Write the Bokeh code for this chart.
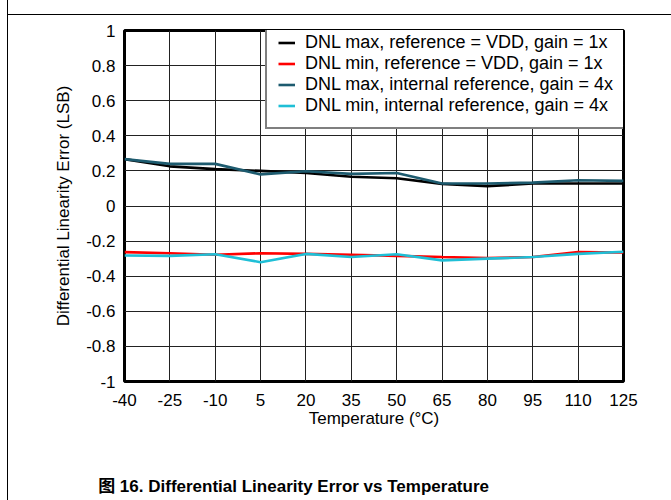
from bokeh.plotting import figure
from bokeh.models import Range1d, FixedTicker, Legend, LegendItem, LinearAxis
from bokeh.embed import file_html
from bokeh.resources import INLINE

# ---- data ----
temps = [-40, -25, -10, 5, 20, 35, 50, 65, 80, 95, 110, 125]
dnl_max_vdd = [0.267, 0.226, 0.210, 0.200, 0.188, 0.167, 0.158, 0.126, 0.113, 0.128, 0.128, 0.128]
dnl_min_vdd = [-0.263, -0.269, -0.278, -0.269, -0.273, -0.278, -0.284, -0.291, -0.297, -0.291, -0.263, -0.265]
dnl_max_int = [0.267, 0.240, 0.240, 0.180, 0.198, 0.183, 0.188, 0.128, 0.128, 0.133, 0.147, 0.143]
dnl_min_int = [-0.282, -0.284, -0.275, -0.320, -0.273, -0.291, -0.275, -0.310, -0.300, -0.291, -0.273, -0.261]

series_names = [
    "DNL max, reference = VDD, gain = 1x",
    "DNL min, reference = VDD, gain = 1x",
    "DNL max, internal reference, gain = 4x",
    "DNL min, internal reference, gain = 4x",
]
series_colors = ["#000000", "#ff0000", "#1d5b6f", "#1fbfd6"]

x_ticks = [-40, -25, -10, 5, 20, 35, 50, 65, 80, 95, 110, 125]
x_tick_labels = ["-40", "-25", "-10", "5", "20", "35", "50", "65", "80", "95", "110", "125"]
y_ticks = [-1.0, -0.8, -0.6, -0.4, -0.2, 0.0, 0.2, 0.4, 0.6, 0.8, 1.0]
y_tick_labels = ["-1", "-0.8", "-0.6", "-0.4", "-0.2", "0", "0.2", "0.4", "0.6", "0.8", "1"]

x_title = "Temperature (°C)"
y_title = "Differential Linearity Error (LSB)"
caption = "图 16. Differential Linearity Error vs Temperature"
caption_x = 15.9  # horizontal anchor of the caption, in temperature units

FONT = "Liberation Sans, Arial, Noto Sans CJK SC"

W, H = 671, 500
p = figure(width=W, height=H, output_backend="svg", toolbar_location=None,
           x_range=Range1d(-40, 125), y_range=Range1d(-1, 1))
p.min_border_left = 124
p.min_border_right = 48
p.min_border_top = 30
p.min_border_bottom = 119
p.background_fill_color = "white"
p.border_fill_color = None
p.outline_line_color = "black"
p.outline_line_width = 3
# page rules of the datasheet (thin black lines left and top)
p.styles = {
    "background": "linear-gradient(#000, #000) 7px 0px / 1px 100% no-repeat, "
                  "linear-gradient(#000, #000) 7px 14px / 664px 1px no-repeat, #ffffff"
}

# grid
for g in (p.xgrid, p.ygrid):
    g.grid_line_color = "#222222"
    g.grid_line_width = 1
p.xgrid.ticker = FixedTicker(ticks=x_ticks)
p.ygrid.ticker = FixedTicker(ticks=y_ticks)

# axes
p.xaxis.ticker = FixedTicker(ticks=x_ticks)
p.yaxis.ticker = FixedTicker(ticks=y_ticks)
p.xaxis.major_label_overrides = {t: l for t, l in zip(x_ticks, x_tick_labels)}
p.yaxis.major_label_overrides = {t: l for t, l in zip(y_ticks, y_tick_labels)}
for ax in (p.xaxis[0], p.yaxis[0]):
    ax.axis_line_color = None
    ax.major_tick_line_color = None
    ax.minor_tick_line_color = None
    ax.major_tick_out = 0
    ax.major_tick_in = 0
    ax.major_label_text_font = FONT
    ax.major_label_text_font_size = "17px"
    ax.major_label_text_color = "black"
    ax.axis_label_text_font = FONT
    ax.axis_label_text_font_size = "17px"
    ax.axis_label_text_font_style = "normal"
    ax.axis_label_text_color = "black"
p.xaxis.axis_label = x_title
p.yaxis.axis_label = y_title
p.xaxis.major_label_standoff = 12
p.yaxis.major_label_standoff = 9
p.xaxis.axis_label_standoff = 0
p.yaxis.axis_label_standoff = 10

# caption under the chart, drawn as the label of an extra bottom axis
cap_axis = LinearAxis(ticker=FixedTicker(ticks=[caption_x]),
                      major_label_overrides={caption_x: caption})
cap_axis.axis_line_color = None
cap_axis.major_tick_line_color = None
cap_axis.minor_tick_line_color = None
cap_axis.major_tick_out = 0
cap_axis.major_tick_in = 0
cap_axis.major_label_standoff = 46
cap_axis.major_label_text_font = FONT
cap_axis.major_label_text_font_size = "17px"
cap_axis.major_label_text_font_style = "bold"
cap_axis.major_label_text_color = "black"
p.add_layout(cap_axis, "below")

# lines
series = [dnl_max_vdd, dnl_min_vdd, dnl_max_int, dnl_min_int]
items = []
for name, color, ys in zip(series_names, series_colors, series):
    r = p.line(temps, ys, line_color=color, line_width=2.6)
    items.append(LegendItem(label=name, renderers=[r]))

legend = Legend(items=items, location=(141, 252))
legend.margin = 0
legend.padding = 11
legend.spacing = 0
legend.glyph_width = 17
legend.glyph_height = 19
legend.label_height = 19
legend.label_standoff = 10
legend.label_text_font = FONT
legend.label_text_font_size = "18px"
legend.label_text_color = "black"
legend.border_line_color = "black"
legend.border_line_width = 2.5
legend.background_fill_color = "white"
legend.background_fill_alpha = 1.0
p.add_layout(legend, "center")

open("out.html", "w").write(file_html(p, INLINE))
